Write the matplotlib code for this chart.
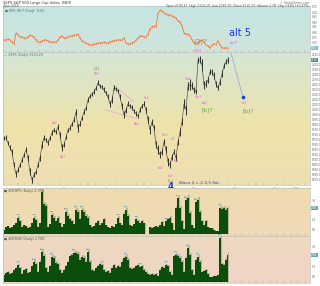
import numpy as np
import matplotlib
matplotlib.use('Agg')
import matplotlib.pyplot as plt
from matplotlib.colors import LinearSegmentedColormap
from matplotlib.transforms import blended_transform_factory

# ---------------- data ----------------
close = [1954, 1954, 1944, 1934, 1926, 1900, 1882, 1890, 1900, 1910, 1920, 1930, 1914, 1886, 1870,
         1880, 1886, 1900, 1914, 1940, 1954, 1950, 1944, 1954, 1964, 1970, 1966, 1976, 1960, 1934,
         1940, 1956, 1970, 1974, 1982, 1990, 2006, 1974, 1982, 1994, 2006, 2014, 2030, 2038, 2042,
         2046, 2054, 2064, 2058, 2056, 2050, 2044, 2036, 2022, 2030, 2054, 2052, 2048, 2036, 2018,
         2000, 2010, 2022, 2018, 2014, 2008, 2002, 1998, 2010, 2018, 2022, 2010, 1990, 1970, 1986,
         1974, 1940, 1930, 1920, 1926, 1946, 1930, 1906, 1900, 1916, 1926, 1914, 1946, 1966, 1986,
         2022, 2010, 2058, 2060, 2058, 2050, 2046, 2110, 2110, 2100, 2060, 2062, 2070, 2086, 2086,
         2078, 2062, 2054, 2066, 2082, 2098, 2106, 2110]
bar_range = [8, 10, 8, 10, 12, 10, 12, 10, 8, 10, 8, 10, 12, 14, 12, 10, 8, 10, 12, 14, 10,
             8, 10, 8, 10, 8, 8, 10, 12, 14, 10, 8, 8, 10, 8, 10, 12, 16, 10, 8, 10,
             8, 10, 8, 8, 10, 8, 10, 8, 8, 10, 8, 10, 12, 14, 10, 8, 8, 10, 12, 14,
             12, 10, 8, 10, 8, 10, 8, 10, 8, 10, 12, 14, 16, 12, 10, 14, 18, 14, 12, 10,
             14, 16, 14, 12, 10, 14, 12, 16, 14, 18, 20, 16, 22, 14, 12, 10, 12, 14, 24, 16,
             14, 12, 10, 12, 14, 12, 10, 12, 14, 10, 10, 12]
ratio = [0.72, 0.72, 0.73, 0.72, 0.70, 0.68, 0.79, 0.77, 0.75, 0.75, 0.74, 0.74, 0.75, 0.77, 0.76,
         0.75, 0.72, 0.70, 0.70, 0.71, 0.72, 0.72, 0.71, 0.70, 0.70, 0.70, 0.70, 0.72, 0.75, 0.76,
         0.74, 0.74, 0.75, 0.76, 0.76, 0.77, 0.77, 0.78, 0.74, 0.71, 0.70, 0.69, 0.68, 0.67, 0.67,
         0.68, 0.68, 0.69, 0.69, 0.69, 0.70, 0.69, 0.69, 0.70, 0.71, 0.71, 0.72, 0.72, 0.72, 0.72,
         0.74, 0.69, 0.68, 0.68, 0.69, 0.70, 0.72, 0.74, 0.76, 0.76, 0.75, 0.75, 0.78, 0.83, 0.85,
         0.86, 0.85, 0.99, 1.02, 1.01, 0.99, 0.98, 0.97, 0.97, 0.96, 0.95, 0.94, 0.91, 0.90, 0.86,
         0.79, 0.78, 0.78, 0.76, 0.72, 0.69, 0.69, 0.68, 0.71, 0.72, 0.70, 0.67, 0.66, 0.64, 0.67,
         0.68, 0.68, 0.71, 0.67, 0.64, 0.64, 0.64, 0.64]
vol_up = [0.4, 0.7, 0.8, 0.6, 0.7, 0.9, 1.1, 1.7, 1.3, 0.7, 0.9, 0.8, 0.6, 0.7, 1.1, 1.7, 1.4, 0.7,
          1.1, 4.3, 3.1, 2.9, 0.7, 1.0, 2.0, 1.7, 1.3, 1.7, 1.1, 0.7, 1.0, 2.3, 1.9, 1.5, 1.3, 1.0,
          2.5, 2.3, 1.5, 2.5, 2.3, 1.9, 1.7, 0.9, 0.7, 0.8, 1.1, 1.3, 0.9, 1.1, 1.5, 0.9, 0.7, 0.6,
          0.8, 0.7, 1.0, 1.7, 1.1, 0.9, 2.1, 2.5, 1.9, 0.9, 0.8, 1.0, 1.5, 1.3, 1.1, 1.3, 1.1, 0.0,
          0.0, 0.7, 0.6, 0.7, 0.8, 0.7, 0.9, 1.2, 0.8, 1.3, 1.5, 1.7, 1.1, 0.4, 2.7, 3.7, 2.7, 1.3,
          0.5, 3.5, 3.7, 2.2, 0.9, 0.6, 3.3, 3.5, 2.3, 1.3, 0.9, 1.3, 0.7, 0.6, 0.6, 0.4, 0.3, 0.3,
          2.7, 2.6, 2.7, 2.5, 2.7]
vol_dn = [0.7, 0.9, 1.0, 0.8, 0.9, 1.2, 1.4, 1.7, 1.4, 0.8, 1.2, 1.3, 0.9, 1.0, 1.6, 2.0, 1.8, 1.0,
          2.0, 3.0, 2.6, 1.4, 1.0, 1.6, 2.5, 2.4, 1.9, 1.8, 1.2, 0.9, 1.2, 1.6, 2.0, 2.6, 2.7, 2.9,
          2.9, 2.8, 2.2, 2.5, 2.4, 2.0, 3.0, 2.0, 1.2, 1.1, 1.4, 1.6, 1.8, 1.7, 1.2, 1.0, 1.1, 0.9,
          1.4, 1.7, 1.4, 1.6, 1.5, 2.0, 2.4, 2.5, 2.2, 1.4, 1.3, 1.4, 1.6, 1.7, 1.5, 1.6, 1.2, 1.0,
          0.8, 0.7, 0.8, 0.7, 0.8, 0.6, 1.2, 1.5, 1.4, 1.7, 1.6, 1.0, 0.7, 2.6, 2.7, 2.6, 2.4, 2.0,
          1.0, 2.4, 3.4, 2.7, 1.2, 0.7, 2.2, 2.5, 2.0, 1.0, 1.1, 1.2, 0.8, 0.5, 0.5, 0.6, 0.6, 0.7,
          4.4, 1.8, 1.7, 2.2, 2.7]

price_ticks = list(range(1870, 2101, 10)) + [2120]
ratio_ticks = [0.70, 0.75, 0.80, 0.85, 0.90, 0.95, 1.00, 1.05]
vol_ticks = [0.5, 1.5, 3.5]
month_labels = ['Jun', 'Jul', 'Aug', 'Sep', 'Oct', 'Nov', 'Dec', '2016']
month_pos = [8, 30, 52, 73, 95, 116, 136, 146]
up_peaks = [7, 15, 19, 24, 31, 36, 39, 57, 61, 66, 81, 87, 91, 96, 108]
dn_peaks = [7, 15, 19, 24, 35, 42, 49, 61, 68, 81, 86, 92, 97, 108]

# projection path (bar index, price)
proj_x = [113.5, 119.5]
proj_y = [2124, 2036]

# ---------------- layout ----------------
W, H = 320, 286
fig = plt.figure(figsize=(W / 100, H / 100), dpi=100)
fig.patch.set_facecolor('white')


def ax_px(l, t, r, b):
    return fig.add_axes([l / W, 1 - b / H, (r - l) / W, (b - t) / H])


ax_top = ax_px(3, 6, 310, 52)
ax_main = ax_px(3, 52, 310, 185)
ax_v1 = ax_px(3, 188, 310, 235)
ax_v2 = ax_px(3, 236, 310, 283)

XLIM = (-0.5, 153.0)


def gradient(ax, stops):
    cmap = LinearSegmentedColormap.from_list('g', stops)
    ax.imshow(np.linspace(0, 1, 256).reshape(-1, 1), aspect='auto', cmap=cmap,
              extent=[0, 1, 0, 1], transform=ax.transAxes, zorder=0, interpolation='bilinear')


def style(ax, yticks, ylim, fmt):
    ax.set_xlim(*XLIM)
    ax.set_ylim(*ylim)
    ax.yaxis.tick_right()
    ax.set_yticks(yticks)
    ax.set_yticklabels([fmt(v) for v in yticks], fontsize=2.0, color='#666666')
    ax.tick_params(axis='y', length=1.0, width=0.3, pad=0.5, colors='#888888', labelcolor='#666666')
    ax.set_xticks(np.arange(0, 153, 3.5))
    ax.set_xticklabels([])
    ax.tick_params(axis='x', direction='in', length=1.2, width=0.3, colors='#999999')
    for s in ax.spines.values():
        s.set_color('#b8b8b8')
        s.set_linewidth(0.4)


gradient(ax_top, [(0, '#c5e4e3'), (1, '#d0e5da')])
gradient(ax_main, [(0, '#d4e6d6'), (0.55, '#eee3aa'), (1, '#efdfb3')])
gradient(ax_v1, [(0, '#efdcae'), (1, '#efdab8')])
gradient(ax_v2, [(0, '#eed9c0'), (1, '#efd5c6')])

n = min(len(close), len(bar_range))
x = np.arange(len(close))

# top ratio panel
xr = np.arange(len(ratio))
ax_top.plot(xr, ratio, color='#f07a3a', lw=0.6, zorder=3)
ax_top.vlines(xr, np.array(ratio) - 0.01, np.array(ratio) + 0.01, color='#f06a30', lw=0.4, zorder=3)
style(ax_top, ratio_ticks, (0.60, 1.06), lambda v: f'{v:.2f}')

# main price bars
c = np.array(close[:n], dtype=float)
r = np.array(bar_range[:n], dtype=float)
ax_main.vlines(x[:n], c - r / 2, c + r / 2, color='#111111', lw=0.6, zorder=3)
ax_main.plot(x[:n], c, color='#333333', lw=0.4, zorder=3)
style(ax_main, price_ticks, (1860, 2126), lambda v: f'{v:.0f}.0')

# pink triangle lines
ax_main.plot([54.5, 65], [2060, 2026], color='#f2a6c6', lw=0.6, zorder=2)
ax_main.plot([51, 67], [2010, 1992], color='#f2a6c6', lw=0.6, zorder=2)

# projection
ax_main.plot(proj_x, proj_y, color='#9aaed0', lw=0.6, zorder=3, clip_on=False)
ax_main.plot(proj_x[-1:], proj_y[-1:], 'o', color='#2040d0', ms=1.6, zorder=4)

pink = '#e25bd3'
green = '#6aa84f'
labels_main = [
    (46.5, 2094, '[3]', green, 3.2), (46.5, 2081, '(5)', pink, 3.0),
    (25, 1984, '(a)', pink, 3.0), (29.5, 1916, '(b)', pink, 3.0),
    (71, 2034, '(c)', pink, 3.0), (66.5, 1982, '(b)', pink, 3.0),
    (78.5, 1894, '(a)', pink, 3.0), (80.5, 1960, '(iv)', pink, 3.0),
    (84.5, 1952, '(i)', pink, 3.0), (86, 1908, '(ii)', pink, 3.0),
    (83.5, 1877, '(v)', pink, 3.0), (83.5, 1869, '[c]', green, 3.2),
    (92, 2072, '(iii)', pink, 3.0), (97, 2036, '(iv)', pink, 3.0),
    (100, 2024, '(a)', pink, 3.0), (101.5, 2010, '[b]?', green, 4.2),
    (120, 2024, '(c)', pink, 3.0), (122, 2008, '[b]?', green, 4.2),
    (97, 2127, '(3)?', pink, 3.2),
]
for lx, ly, t, col, fs in labels_main:
    ax_main.text(lx, ly, t, color=col, fontsize=fs, ha='center', va='center', zorder=5, clip_on=False)

ax_main.text(83.5, 1857, '4', color='#2233dd', fontsize=6, ha='center', va='center',
             fontweight='bold', clip_on=False, zorder=6)
ax_main.text(87.5, 1864, 'Wave 4 = 3-3-5 flat', color='#3344cc', fontsize=3.0,
             ha='left', va='center', zorder=5)

ax_top.text(98, 0.70, '(3)?', color=green, fontsize=5, ha='center', va='center', zorder=5)
ax_top.text(115, 0.69, '(a)?', color=pink, fontsize=3.2, ha='center', va='center', zorder=5)
ax_top.text(118, 0.79, 'alt 5', color='#2233ee', fontsize=7, ha='center', va='center', zorder=5)

# volume panels
for ax, v, top, peaks in ((ax_v1, vol_up, 4.75, up_peaks), (ax_v2, vol_dn, 4.6, dn_peaks)):
    xv = np.arange(len(v))
    vv = np.array(v)
    ax.fill_between(xv + 0.6, 0, vv * 1.08, step='mid', color='#a9a58c', alpha=0.7, lw=0, zorder=2)
    ax.fill_between(xv, 0, vv, step='mid', color='#0b4d0b', lw=0, zorder=3)
    style(ax, vol_ticks, (-0.1, top), lambda q: f'{q:.1f}')
    for p in peaks:
        ax.text(p, v[p] + 0.25, f'{v[p]:.1f}', fontsize=1.6, color='#335555', ha='center',
                va='bottom', zorder=6,
                bbox=dict(boxstyle='square,pad=0.1', fc='#b9d3d3', ec='none', alpha=0.9))

# x tick month labels (bottom of main)
tr = blended_transform_factory(ax_main.transData, ax_main.transAxes)
for mp, ml in zip(month_pos, month_labels):
    ax_main.text(mp, -0.012, ml, fontsize=2.0, color='#777777', ha='center', va='top',
                 transform=tr, clip_on=False)


# right-side value boxes
def value_box(ax, yv, text, fc, tc='white'):
    t = blended_transform_factory(ax.transAxes, ax.transData)
    ax.text(1.004, yv, text, transform=t, fontsize=2.0, color=tc, ha='left', va='center',
            bbox=dict(boxstyle='square,pad=0.12', fc=fc, ec='none'), clip_on=False, zorder=8)


value_box(ax_main, 2110, '2110', '#3f8c8c')
value_box(ax_top, 0.64, '0.64', '#7fb8c8')
value_box(ax_v1, 2.7, '2.7B', '#6aa8a8')
value_box(ax_v2, 2.7, '2.7B', '#6aa8a8')

# panel captions
ax_top.text(0.003, 0.97, '\u25a0 $SPX:$RUT (Daily) 0.64', transform=ax_top.transAxes,
            fontsize=2.3, color='#4a7a70', ha='left', va='top')
ax_main.text(0.003, 0.995, '\u2014 $SPX (Daily) 2110.29', transform=ax_main.transAxes,
             fontsize=2.3, color='#5a7a60', ha='left', va='top')
ax_v1.text(0.003, 0.97, '\u25a0 $NYUPV (Daily) 2.70B', transform=ax_v1.transAxes,
           fontsize=2.3, color='#555555', ha='left', va='top')
ax_v2.text(0.003, 0.97, '\u25a0 $NYDNV (Daily) 2.70B', transform=ax_v2.transAxes,
           fontsize=2.3, color='#555555', ha='left', va='top')

fig.text(3 / W, 1 - 0.8 / H, '$SPX S&P 500 Large Cap Index  INDX', fontsize=2.6, color='#333333',
         ha='left', va='top')
fig.text(3 / W, 1 - 3.8 / H, '4-Jan-2016', fontsize=2.2, color='#555555', ha='left', va='top')
fig.text(309 / W, 1 - 0.8 / H, '\u00a9 StockCharts.com', fontsize=2.2, color='#666666',
         ha='right', va='top')
fig.text(309 / W, 1 - 3.8 / H,
         'Open 2100.47  High 2110.29  Low 2095.20  Close 2110.29  Volume 2.7B  Chg +9.82 (+0.47%)',
         fontsize=2.2, color='#555555', ha='right', va='top')

fig.savefig('out.png', dpi=100, facecolor='white')
